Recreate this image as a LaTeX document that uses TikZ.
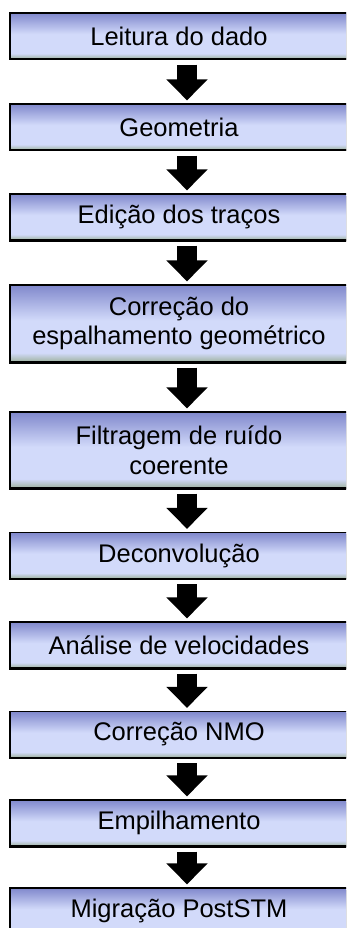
\documentclass[tikz,border=0pt]{standalone}
\usepackage{fontspec}
\setmainfont{Liberation Sans}
\usepackage{tikz}
\usetikzlibrary{arrows.meta,shadows}

\definecolor{boxtop}{RGB}{128,136,204}
\definecolor{boxmid}{RGB}{210,218,250}
\definecolor{boxbot}{RGB}{158,178,158}
\pgfdeclareverticalshading{boxshade}{100bp}{color(0bp)=(boxbot); color(25bp)=(boxbot);
  color(31bp)=(boxmid); color(52bp)=(boxmid); color(75bp)=(boxtop); color(100bp)=(boxtop)}

\tikzset{
  etapa/.style={rectangle, draw=black, line width=1.2pt, shading=boxshade,
    general shadow={fill=black, shadow xshift=-1.5pt, shadow yshift=-1.5pt},
    minimum width=338pt, minimum height=46pt, inner sep=0pt, align=center,
    font=\fontsize{25.5pt}{29.5pt}\selectfont},
  seta/.style={line width=20pt, -{Triangle[width=40pt,length=21pt]},
    shorten <=5pt, shorten >=3pt}
}

\begin{document}
\begin{tikzpicture}[x=1pt,y=-1pt]
\useasboundingbox (0,0) rectangle (346,928);
\clip (0,0) rectangle (346,928);

% etapas do processamento
\node[etapa] (b1) at (179,36) {Leitura do dado};
\node[etapa] (b2) at (179,127) {Geometria};
\node[etapa] (b3) at (179,217) {Edição dos traços};
\node[etapa, minimum height=77pt] (b4) at (179,323.5) {Correção do\\espalhamento geométrico};
\node[etapa, minimum height=76pt] (b5) at (179,450) {Filtragem de ruído\\coerente};
\node[etapa] (b6) at (179,555.5) {Deconvolução};
\node[etapa] (b7) at (179,645) {Análise de velocidades};
\node[etapa] (b8) at (179,734.5) {Correção NMO};
\node[etapa] (b9) at (179,823) {Empilhamento};
\node[etapa] (b10) at (179,911) {Migração PostSTM};

% setas
\foreach \a/\b in {b1/b2,b2/b3,b3/b4,b4/b5,b5/b6,b6/b7,b7/b8,b8/b9,b9/b10}
  \draw[seta] ([xshift=8pt]\a.south) -- ([xshift=8pt]\b.north);
\end{tikzpicture}
\end{document}
